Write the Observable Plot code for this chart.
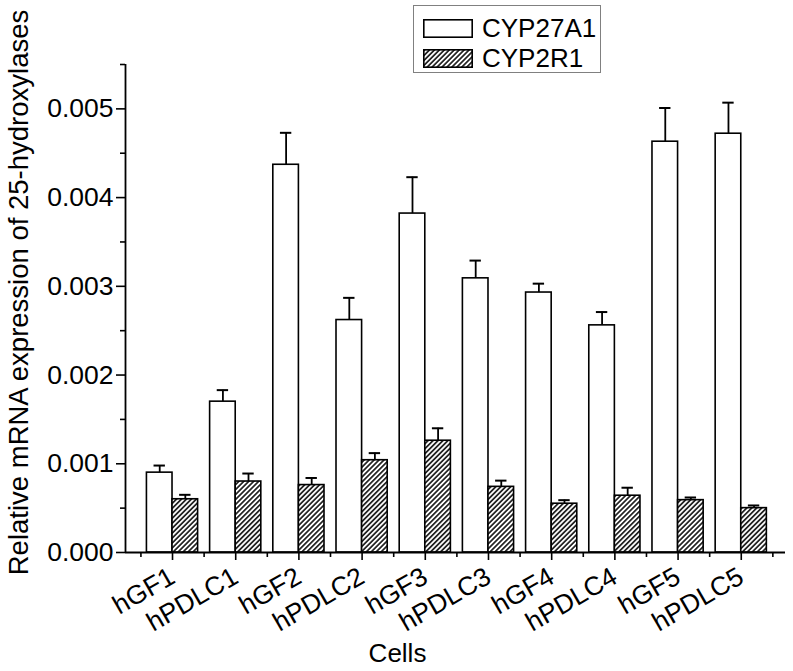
<!DOCTYPE html>
<html>
<head>
<meta charset="utf-8">
<script src="https://cdn.jsdelivr.net/npm/d3@7"></script>
<script src="https://cdn.jsdelivr.net/npm/@observablehq/plot@0.6"></script>
<style>
  body { margin: 0; background: #fff; }
  #wrap { position: relative; width: 793px; height: 671px; font-family: "Liberation Sans", Arial, sans-serif; }
  #legend { position: absolute; left: 413px; top: 5px; width: 188px; height: 68px; border: 1px solid #808080; background: #fff; box-sizing: border-box; }
  .li { position: absolute; left: 9px; height: 20px; display: flex; align-items: center; }
  .li span { font-size: 26px; margin-left: 9px; color: #000; line-height: 20px; }
</style>
</head>
<body>
<div id="wrap">
  <div id="chart"></div>
  <div id="legend">
    <div class="li" style="top:12px"><svg width="50" height="19"><rect x="0.8" y="0.8" width="48.4" height="17.4" fill="white" stroke="black" stroke-width="1.6"/></svg><span>CYP27A1</span></div>
    <div class="li" style="top:42px"><svg width="50" height="19"><rect x="0.8" y="0.8" width="48.4" height="17.4" fill="url(#hatch)" stroke="black" stroke-width="1.6"/></svg><span>CYP2R1</span></div>
  </div>
</div>
<script>
const cells = ["hGF1","hPDLC1","hGF2","hPDLC2","hGF3","hPDLC3","hGF4","hPDLC4","hGF5","hPDLC5"];
const cyp27a1 = [0.00090,0.00170,0.00437,0.00262,0.00382,0.00309,0.00293,0.00256,0.00463,0.00472];
const cyp27a1Err = [0.00008,0.00013,0.00036,0.00025,0.00041,0.00020,0.00010,0.00015,0.00038,0.00035];
const cyp2r1 = [0.00060,0.00080,0.00076,0.00104,0.00126,0.00074,0.00055,0.00064,0.00059,0.00050];
const cyp2r1Err = [0.00005,0.00009,0.00008,0.00008,0.00014,0.00007,0.00004,0.00009,0.00003,0.00003];
const yMajor = [0, 0.001, 0.002, 0.003, 0.004, 0.005];
const yMinor = [0.0005, 0.0015, 0.0025, 0.0035, 0.0045, 0.0055];
const yTitle = "Relative mRNA expression of 25-hydroxylases";
const xTitle = "Cells";

const W = 0.405;   // bar width in category units
const CAP = 0.09;  // half cap width
const rowsA = cells.map((c, i) => ({cell: c, i, value: cyp27a1[i], err: cyp27a1Err[i], x1: i - W, x2: i}));
const rowsB = cells.map((c, i) => ({cell: c, i, value: cyp2r1[i], err: cyp2r1Err[i], x1: i, x2: i + W}));
const allRows = rowsA.concat(rowsB);
const xDomain = [-0.744, 9.70];

const plot = Plot.plot({
  width: 793,
  height: 671,
  marginLeft: 125,
  marginRight: 8,
  marginTop: 64,
  marginBottom: 119,
  style: {fontFamily: "'Liberation Sans', Arial, sans-serif", color: "black", background: "white"},
  x: {type: "linear", domain: xDomain},
  y: {domain: [0, 0.0055]},
  marks: [
    Plot.ruleX(allRows, {x: d => (d.x1 + d.x2) / 2, y1: "value", y2: d => d.value + d.err, stroke: "black", strokeWidth: 1.8}),
    Plot.ruleY(allRows, {y: d => d.value + d.err, x1: d => (d.x1 + d.x2) / 2 - CAP, x2: d => (d.x1 + d.x2) / 2 + CAP, stroke: "black", strokeWidth: 2}),
    Plot.rect(rowsA, {x1: "x1", x2: "x2", y1: 0, y2: "value", fill: "white", stroke: "black", strokeWidth: 1.6, ariaDescription: "CYP27A1 bars"}),
    Plot.rect(rowsB, {x1: "x1", x2: "x2", y1: 0, y2: "value", fill: "white", stroke: "black", strokeWidth: 1.6, ariaDescription: "CYP2R1 bars"}),
    Plot.axisY({ticks: yMajor, tickFormat: d3.format(".3f"), tickSize: 9, tickPadding: 3, fontSize: 26.5, strokeWidth: 1.6, label: null}),
    Plot.axisY({ticks: yMinor, tickSize: 5, strokeWidth: 1.6, tickFormat: () => "", label: null}),
    Plot.axisX({ticks: d3.range(10), tickFormat: i => cells[i], tickSize: 8, tickPadding: 14, tickRotate: -30, fontSize: 26.5, strokeWidth: 1.6, label: null}),
    Plot.axisX({ticks: d3.range(-0.5, 10, 1), tickSize: 5, strokeWidth: 1.6, tickFormat: () => "", label: null}),
    Plot.ruleY([0], {stroke: "black", strokeWidth: 1.8}),
    Plot.ruleX([xDomain[0]], {y1: 0, y2: 0.0055, stroke: "black", strokeWidth: 1.8}),
    Plot.text([yTitle], {frameAnchor: "left", textAnchor: "middle", dx: -106, dy: -16, rotate: -90, fontSize: 27.5, text: d => d, fill: "black"}),
    Plot.text([xTitle], {frameAnchor: "bottom", textAnchor: "middle", dx: -58, dy: 109, fontSize: 26, text: d => d, fill: "black"})
  ]
});

const svg = d3.select(plot);
svg.insert("defs", ":first-child").html(
  '<pattern id="hatch" patternUnits="userSpaceOnUse" width="3.5" height="3.5" patternTransform="rotate(45)">' +
  '<rect width="3.5" height="3.5" fill="white"/>' +
  '<line x1="1.75" y1="0" x2="1.75" y2="3.5" stroke="black" stroke-width="1.5"/></pattern>'
);
svg.selectAll('g[aria-description="CYP2R1 bars"] rect').attr("fill", "url(#hatch)");
document.getElementById("chart").appendChild(plot);
</script>
</body>
</html>
